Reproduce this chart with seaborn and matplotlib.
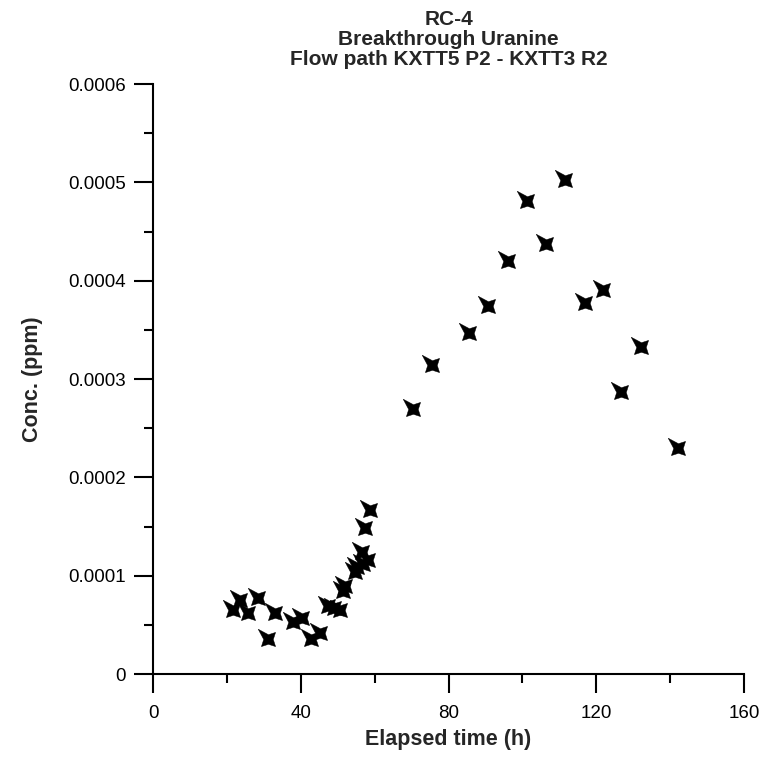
import numpy as np
import pandas as pd
import matplotlib
matplotlib.use("Agg")
import matplotlib.pyplot as plt
from matplotlib.path import Path
from matplotlib.ticker import MultipleLocator, FixedLocator
import seaborn as sns

# ---- data ----
elapsed_h = [21.7, 23.5, 25.8, 28.5, 31.2, 33.0, 38.0, 40.2, 42.9, 45.2,
             47.4, 49.0, 50.6, 51.5, 51.9, 54.7, 55.1, 56.5, 56.9, 57.4, 58.3, 58.7,
             70.5, 75.4, 85.5, 90.7, 96.1, 101.2, 106.3, 111.4,
             116.9, 121.8, 126.8, 132.2, 142.1]
conc_ppm = [6.5e-5, 7.5e-5, 6.2e-5, 7.7e-5, 3.6e-5, 6.2e-5, 5.3e-5, 5.7e-5, 3.6e-5, 4.2e-5,
            6.9e-5, 6.7e-5, 6.5e-5, 8.4e-5, 9.0e-5, 1.04e-4, 1.09e-4, 1.24e-4, 1.12e-4, 1.48e-4, 1.16e-4, 1.67e-4,
            2.69e-4, 3.14e-4, 3.47e-4, 3.74e-4, 4.20e-4, 4.81e-4, 4.37e-4, 5.02e-4,
            3.77e-4, 3.91e-4, 2.87e-4, 3.33e-4, 2.30e-4]
x_ticks = [0, 40, 80, 120, 160]
y_ticks = [0, 0.0001, 0.0002, 0.0003, 0.0004, 0.0005, 0.0006]
y_tick_labels = ["0", "0.0001", "0.0002", "0.0003", "0.0004", "0.0005", "0.0006"]
title_lines = ["RC-4", "Breakthrough Uranine", "Flow path KXTT5 P2 - KXTT3 R2"]
x_label = "Elapsed time (h)"
y_label = "Conc. (ppm)"

df = pd.DataFrame({"t": elapsed_h, "c": conc_ppm})

sns.set_style("white")
plt.rcParams["font.family"] = ["Liberation Sans", "DejaVu Sans"]

# custom 4-point star marker (bold "x" with a thin spike)
r_in = 0.48
verts = []
angles_out = [45, 135, 225, 315]
radii_out = [1.0, 1.45, 1.0, 1.0]
for a, r in zip(angles_out, radii_out):
    ai = np.deg2rad(a - 45)
    verts.append((r_in * np.cos(ai), r_in * np.sin(ai)))
    ao = np.deg2rad(a)
    verts.append((r * np.cos(ao), r * np.sin(ao)))
verts.append(verts[0])
codes = [Path.MOVETO] + [Path.LINETO] * (len(verts) - 2) + [Path.CLOSEPOLY]
star = Path(verts, codes)

fig = plt.figure(figsize=(7.61, 7.61), dpi=100)
ax = fig.add_axes([0.2011, 0.1143, 0.7766, 0.7753])

sns.scatterplot(data=df, x="t", y="c", marker=star, s=220, color="black",
                edgecolor="black", linewidth=0.3, ax=ax, legend=False, zorder=3)

ax.set_xlim(0, 160)
ax.set_ylim(0, 0.0006)
ax.xaxis.set_major_locator(FixedLocator(x_ticks))
ax.xaxis.set_minor_locator(MultipleLocator(20))
ax.yaxis.set_major_locator(FixedLocator(y_ticks))
ax.set_yticklabels(y_tick_labels)
ax.set_xticklabels([str(v) for v in x_ticks])
ax.yaxis.set_minor_locator(MultipleLocator(0.00005))

for side in ["top", "right"]:
    ax.spines[side].set_visible(False)
for side in ["left", "bottom"]:
    ax.spines[side].set_linewidth(1.5)
    ax.spines[side].set_color("black")

ax.tick_params(which="major", direction="out", length=13.5, width=1.5,
               labelsize=13.5, colors="black", pad=6)
ax.tick_params(axis="x", which="major", pad=9)
ax.tick_params(which="minor", direction="out", length=6.5, width=1.5, colors="black")
ax.tick_params(axis="both", which="both", bottom=True, left=True)

ax.set_xlabel(x_label, fontsize=15.5, fontweight="bold", labelpad=5)
ax.set_ylabel(y_label, fontsize=15.5, fontweight="bold", labelpad=18)
ax.set_title("\n".join(title_lines), fontsize=15, fontweight="bold",
             linespacing=1.05, pad=14)

fig.savefig("out.png", dpi=100)
